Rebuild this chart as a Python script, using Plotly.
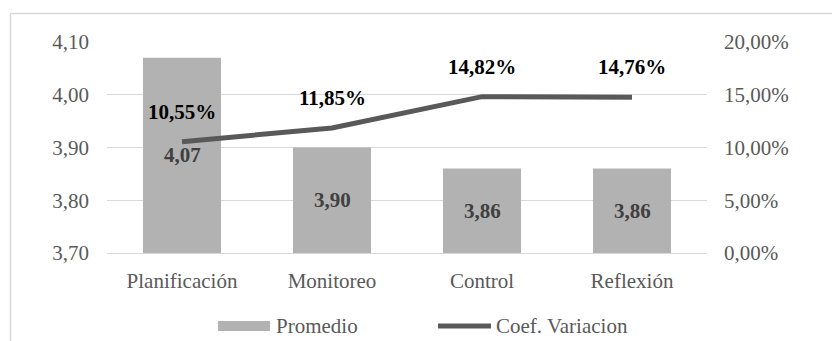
import plotly.graph_objects as go

# Data
categorias = ["Planificación", "Monitoreo", "Control", "Reflexión"]
promedio = [4.07, 3.90, 3.86, 3.86]
coef_variacion = [0.1055, 0.1185, 0.1482, 0.1476]
nombre_barras = "Promedio"
nombre_linea = "Coef. Variacion"

FONT = "Times New Roman, Liberation Serif, serif"
FS = 21
BAR_COLOR = "#B2B2B2"
LINE_COLOR = "#595959"
GRID = "#D9D9D9"
TEXT = "#595959"

W, H = 832, 341
L, R, T, B = 107, 125, 42, 88


def fmt_num(v, dec=2):
    return f"{v:.{dec}f}".replace(".", ",")


fig = go.Figure()
fig.add_trace(go.Bar(
    x=categorias, y=promedio, name=nombre_barras,
    marker=dict(color=BAR_COLOR, line=dict(width=0)),
    width=0.52, yaxis="y",
))
fig.add_trace(go.Scatter(
    x=categorias, y=coef_variacion, name=nombre_linea,
    mode="lines", line=dict(color=LINE_COLOR, width=5),
    yaxis="y2",
))

ymin, ymax = 3.70, 4.10
annotations = []
# bar value labels, centred on the visible part of each bar
for c, v in zip(categorias, promedio):
    annotations.append(dict(
        x=c, y=(ymin + v) / 2, xref="x", yref="y", yanchor="middle",
        text=f"<b>{fmt_num(v)}</b>", showarrow=False,
        font=dict(family=FONT, size=FS, color="#404040"),
    ))
# percentage labels above the line
for c, v in zip(categorias, coef_variacion):
    annotations.append(dict(
        x=c, y=v, xref="x", yref="y2", yanchor="middle", yshift=30,
        text=f"<b>{fmt_num(v * 100)}%</b>", showarrow=False,
        font=dict(family=FONT, size=FS, color="#000000"),
    ))


def px_x(px):
    return (px - L) / (W - L - R)


def px_y(py):
    return (H - B - py) / (H - T - B)


# custom legend
leg_y = px_y(326)
shapes = [
    dict(type="rect", xref="paper", yref="paper",
         x0=px_x(218), x1=px_x(270), y0=px_y(331), y1=px_y(321),
         fillcolor=BAR_COLOR, line=dict(width=0)),
    dict(type="line", xref="paper", yref="paper",
         x0=px_x(438), x1=px_x(491), y0=leg_y, y1=leg_y,
         line=dict(color=LINE_COLOR, width=5)),
    # outer chart frame
    dict(type="rect", xref="paper", yref="paper",
         x0=px_x(10.5), x1=px_x(900), y0=px_y(13.5), y1=px_y(400),
         line=dict(color=GRID, width=1.5), fillcolor="rgba(0,0,0,0)"),
]
annotations += [
    dict(x=px_x(274), y=leg_y, xref="paper", yref="paper",
         xanchor="left", yanchor="middle",
         text=nombre_barras, showarrow=False,
         font=dict(family=FONT, size=FS, color=TEXT)),
    dict(x=px_x(494), y=leg_y, xref="paper", yref="paper",
         xanchor="left", yanchor="middle",
         text=nombre_linea, showarrow=False,
         font=dict(family=FONT, size=FS, color=TEXT)),
]

fig.update_layout(
    width=W, height=H,
    margin=dict(l=L, r=R, t=T, b=B),
    paper_bgcolor="white", plot_bgcolor="white",
    separators=",.",
    showlegend=False,
    font=dict(family=FONT, size=FS, color=TEXT),
    xaxis=dict(
        showgrid=False, showline=True, linecolor=GRID, linewidth=1,
        ticks="", ticklabelstandoff=9,
        tickfont=dict(family=FONT, size=FS, color=TEXT),
    ),
    yaxis=dict(
        range=[ymin, ymax], dtick=0.1, tickformat=".2f",
        showgrid=True, gridcolor=GRID, gridwidth=1, zeroline=False,
        ticks="", ticklabelstandoff=17,
        tickfont=dict(family=FONT, size=FS, color=TEXT),
    ),
    yaxis2=dict(
        range=[0, 0.20], dtick=0.05, tickformat=".2%",
        overlaying="y", side="right", showgrid=False, zeroline=False,
        ticks="", ticklabelstandoff=16,
        tickfont=dict(family=FONT, size=FS, color=TEXT),
    ),
    annotations=annotations,
    shapes=shapes,
)

fig.write_html("out.html")
